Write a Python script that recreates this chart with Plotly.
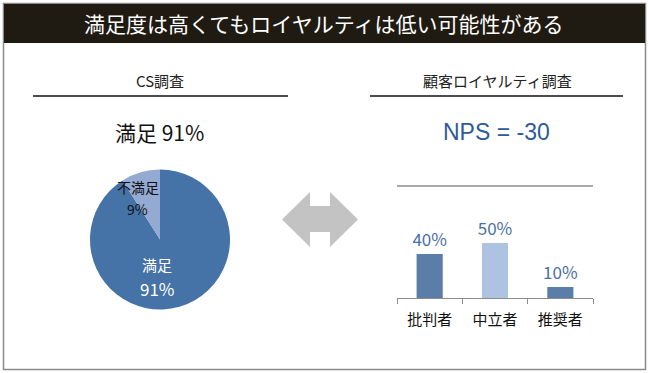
import plotly.graph_objects as go

W, H = 649, 373

# ---- data ----
title_text = "満足度は高くてもロイヤルティは低い可能性がある"
left_header = "CS調査"
right_header = "顧客ロイヤルティ調査"
pie_labels = ["満足", "不満足"]
pie_values = [91, 9]
nps_categories = ["批判者", "中立者", "推奨者"]
nps_values = [40, 50, 10]
nps_score = nps_values[2] - nps_values[0]

FONT = "Noto Sans CJK JP"


def px(x):
    return x / W


def py(y):
    return 1 - y / H


fig = go.Figure()

fig.add_trace(go.Pie(
    labels=pie_labels, values=pie_values, sort=False,
    direction="counterclockwise", rotation=0,
    marker=dict(colors=["#4572a7", "#94aad2"], line=dict(width=0)),
    textinfo="none", hoverinfo="label+percent",
    domain=dict(x=[px(90), px(230)], y=[py(309.5), py(169.5)]),
    showlegend=False,
))

bar_colors = ["#5b7ea9", "#adc3e1", "#5b7ea9"]
fig.add_trace(go.Bar(
    x=nps_categories, y=nps_values, width=0.4,
    marker=dict(color=bar_colors, line=dict(width=0)),
    text=[f"{v}%" for v in nps_values], textposition="outside",
    constraintext="none",
    textfont=dict(family=FONT, size=17, color="#4a70a8"),
    cliponaxis=False, showlegend=False,
    xaxis="x", yaxis="y",
))

fig.update_layout(
    width=W, height=H, margin=dict(l=0, r=0, t=0, b=0),
    paper_bgcolor="white", plot_bgcolor="white",
    font=dict(family=FONT),
    xaxis=dict(domain=[px(397), px(593)], range=[-0.5, 2.5],
               showline=True, linecolor="#8c8c8c", linewidth=1.3,
               ticks="outside", tickson="boundaries", ticklen=5,
               tickcolor="#8c8c8c", tickwidth=1,
               tickfont=dict(family=FONT, size=15, color="#111"),
               ticklabelstandoff=8,
               showgrid=False, zeroline=False, fixedrange=True),
    yaxis=dict(domain=[py(298), py(186)], range=[0, 102],
               visible=False, showgrid=False, zeroline=False, fixedrange=True),
)

shapes = [
    # outer border
    dict(type="rect", xref="paper", yref="paper",
         x0=px(3.5), x1=px(645.5), y0=py(369.5), y1=py(3.5),
         line=dict(color="#8a8a8a", width=1.5), fillcolor="rgba(0,0,0,0)"),
    # title bar
    dict(type="rect", xref="paper", yref="paper",
         x0=px(4), x1=px(645), y0=py(43), y1=py(4),
         line=dict(width=0), fillcolor="#1f1b12"),
    # header underlines
    dict(type="line", xref="paper", yref="paper",
         x0=px(33), x1=px(288), y0=py(96), y1=py(96),
         line=dict(color="#111", width=1.3)),
    dict(type="line", xref="paper", yref="paper",
         x0=px(370), x1=px(623), y0=py(96), y1=py(96),
         line=dict(color="#111", width=1.3)),
    # top line of bar area
    dict(type="line", xref="paper", yref="paper",
         x0=px(397), x1=px(593), y0=py(186), y1=py(186),
         line=dict(color="#8c8c8c", width=1.3)),
]

# double arrow
pts = [(282, 219.5), (310, 192), (310, 206), (330, 206), (330, 192),
       (358, 219.5), (330, 247), (330, 232), (310, 232), (310, 247)]
path = "M " + " L ".join(f"{px(x)},{py(y)}" for x, y in pts) + " Z"
shapes.append(dict(type="path", xref="paper", yref="paper", path=path,
                   fillcolor="#c3c3c3", line=dict(width=0)))
fig.update_layout(shapes=shapes)

ann = [
    dict(text=title_text, x=px(323), y=py(23), font=dict(size=21, color="white")),
    dict(text=left_header, x=px(160), y=py(80), font=dict(size=15, color="#222")),
    dict(text=right_header, x=px(497), y=py(80), font=dict(size=15, color="#222")),
    dict(text=f"{pie_labels[0]} {pie_values[0]}%", x=px(159), y=py(132),
         font=dict(size=21, color="#111")),
    dict(text=f"NPS = {nps_score}", x=px(496), y=py(132),
         font=dict(family="Liberation Sans", size=23, color="#2e5b96")),
    dict(text=pie_labels[0], x=px(157), y=py(276), yanchor="bottom", borderpad=0,
         font=dict(size=15, color="white")),
    dict(text=f"{pie_values[0]}%", x=px(157), y=py(275), yanchor="top", borderpad=0,
         font=dict(size=17, color="white")),
    dict(text=pie_labels[1], x=px(138), y=py(197.5), yanchor="bottom", borderpad=0,
         font=dict(size=14, color="#111")),
    dict(text=f"{pie_values[1]}%", x=px(137), y=py(197.5), yanchor="top", borderpad=0,
         font=dict(size=14, color="#111")),
]
for a in ann:
    a.setdefault("yanchor", "middle")
    a.update(xref="paper", yref="paper", showarrow=False, xanchor="center")
fig.update_layout(annotations=ann)

fig.write_html("out.html", config={"displayModeBar": False},
               post_script="document.body.style.margin='0';")
